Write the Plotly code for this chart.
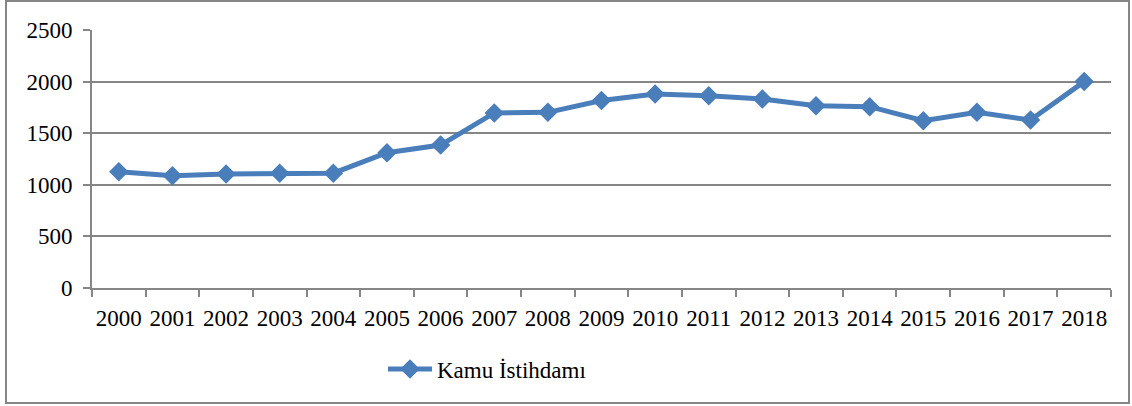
import plotly.graph_objects as go

years = [str(y) for y in range(2000, 2019)]
kamu_istihdami = [1126, 1088, 1104, 1113, 1113, 1311, 1385, 1696, 1702, 1816,
                  1880, 1864, 1832, 1767, 1757, 1621, 1702, 1628, 2000]
y_ticks = [0, 500, 1000, 1500, 2000, 2500]

blue = "#4A7EBB"
grey = "#868686"
FAM = "Liberation Serif"
font = dict(family=FAM, size=23, color="#000000")

fig = go.Figure()
fig.add_trace(go.Scatter(
    x=years, y=kamu_istihdami, name="Kamu İstihdamı", mode="lines+markers",
    line=dict(color=blue, width=5),
    marker=dict(symbol="diamond", size=15, color=blue),
))

L, R, T, B = 92, 21, 30, 118
W, H = 1132, 406
pw, ph = W - L - R, H - T - B

def px(x):
    return (x - L) / pw

def py(y):
    return (H - B - y) / ph

fig.update_layout(
    width=W, height=H, autosize=False,
    margin=dict(l=L, r=R, t=T, b=B, pad=0, autoexpand=False),
    paper_bgcolor="white", plot_bgcolor="white",
    font=font,
    showlegend=True,
    legend=dict(orientation="h", x=px(383), xanchor="left", y=py(369), yanchor="middle",
                font=dict(family=FAM, size=23, color="#000000"), itemwidth=44,
                bgcolor="rgba(0,0,0,0)"),
    xaxis=dict(type="category", showgrid=False, showline=True, linecolor=grey, linewidth=2,
               ticks="outside", tickson="boundaries", ticklen=7, tickcolor=grey, tickwidth=2,
               tickfont=font, tickangle=0, range=[-0.5, 18.5], automargin=False,
               ticklabelstandoff=8),
    yaxis=dict(range=[0, 2500], tickvals=y_ticks, showgrid=True, gridcolor=grey, gridwidth=1.5,
               showline=True, linecolor=grey, linewidth=2, ticks="outside", ticklen=7,
               tickcolor=grey, tickwidth=2, tickfont=font, zeroline=False,
               ticklabelstandoff=6, automargin=False),
    shapes=[dict(type="rect", xref="paper", yref="paper",
                 x0=px(6), x1=px(1129), y0=py(403), y1=py(1),
                 line=dict(color=grey, width=2), fillcolor="rgba(0,0,0,0)", layer="below")],
)

fig.write_html("out.html", config={"displayModeBar": False},
               post_script="document.body.style.margin='0';")
